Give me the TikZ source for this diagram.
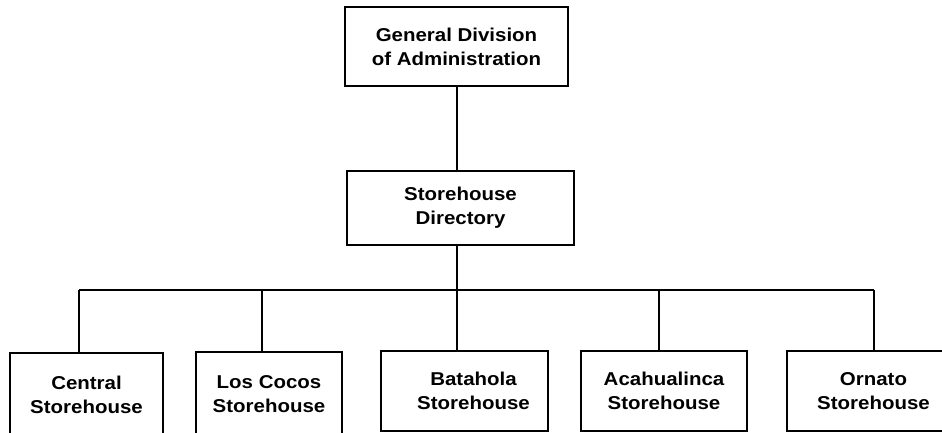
\documentclass[tikz,border=0pt]{standalone}
\usepackage{fontspec}
\setmainfont{Liberation Sans}[FakeStretch=1.1]
\begin{document}
\begin{tikzpicture}[x=1pt,y=-1pt,
  box/.style={draw, line width=1.3pt, inner sep=0pt, align=center,
    font=\bfseries\fontsize{18.6}{24}\selectfont},
  conn/.style={line width=1.3pt}]
\useasboundingbox (0,0) rectangle (942,433);
\clip (0,0) rectangle (942,433);
\node[box, minimum width=223pt, minimum height=79pt] (top) at (456.5,46.5) {General Division\\of Administration};
\node[box, minimum width=227pt, minimum height=74pt] (dir) at (460.5,208) {Storehouse\\Directory};
\node[box, minimum width=153pt, minimum height=84pt] (c1) at (86.5,395) {Central\\Storehouse};
\node[box, minimum width=146pt, minimum height=85pt] (c2) at (269,394.5) {Los Cocos\\Storehouse};
\node[box, minimum width=167pt, minimum height=80pt] (c3) at (464.5,391) {\hspace*{18pt}Batahola\\\hspace*{18pt}Storehouse};
\node[box, minimum width=166pt, minimum height=80pt] (c4) at (664,391) {Acahualinca\\Storehouse};
\node[box, minimum width=173pt, minimum height=80pt] (c5) at (873.5,391) {Ornato\\Storehouse};
\coordinate (d1) at (79,290);
\coordinate (d2) at (262,290);
\coordinate (d3) at (457,290);
\coordinate (d4) at (659,290);
\coordinate (d5) at (874,290);
\draw[conn] (d3 |- top.south) -- (d3 |- dir.north);
\draw[conn] (d3 |- dir.south) -- (d3);
\draw[conn] (d1) -- (d5);
\draw[conn] (d1) -- (d1 |- c1.north);
\draw[conn] (d2) -- (d2 |- c2.north);
\draw[conn] (d3) -- (d3 |- c3.north);
\draw[conn] (d4) -- (d4 |- c4.north);
\draw[conn] (d5) -- (d5 |- c5.north);
\end{tikzpicture}
\end{document}
